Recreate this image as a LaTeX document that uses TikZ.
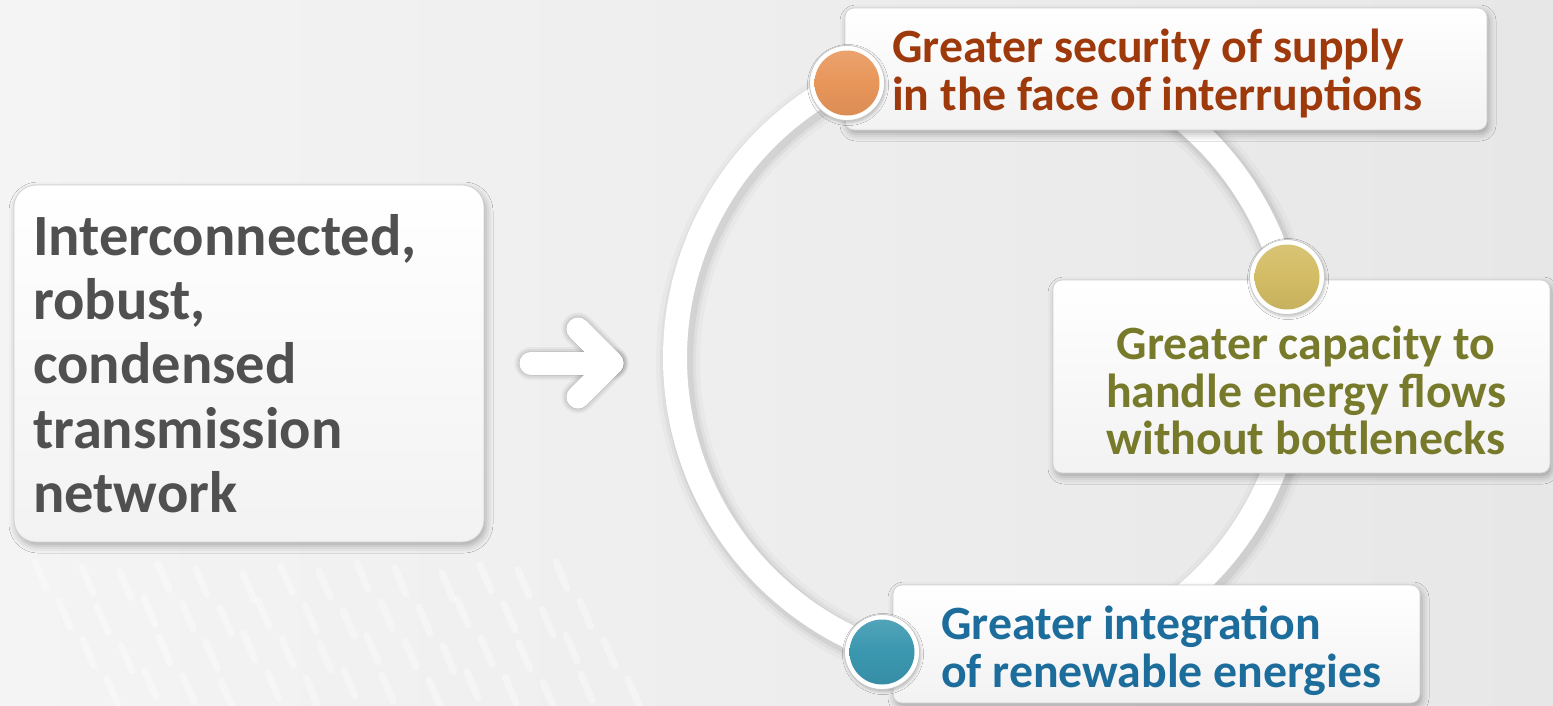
\documentclass[tikz,border=0pt]{standalone}
\usepackage{fontspec}
\setmainfont{Carlito}
\usetikzlibrary{shadows.blur}

\definecolor{bgleft}{HTML}{F4F4F4}
\definecolor{bgright}{HTML}{E7E7E7}
\definecolor{netgray}{HTML}{505050}
\definecolor{supplyred}{HTML}{9E390C}
\definecolor{flowolive}{HTML}{787A2B}
\definecolor{renewblue}{HTML}{1C6C9C}
\definecolor{dotorange}{HTML}{E8965A}
\definecolor{dotyellow}{HTML}{D3BC64}
\definecolor{dotblue}{HTML}{3A97AF}

\tikzset{
  panel/.style={rounded corners=9, draw=black!18, line width=0.8,
    top color=white, bottom color=black!5,
    blur shadow={shadow xshift=2pt, shadow yshift=-4pt,
      shadow blur radius=7pt, shadow opacity=30},
    inner sep=0, outer sep=0},
  bigtext/.style={font=\bfseries\fontsize{58.5}{64.3}\selectfont, text=netgray,
    align=left, inner sep=0},
  benefit/.style={font=\bfseries\fontsize{47.8}{47.5}\selectfont, inner sep=0},
  rim/.style={circle, minimum size=75, fill=white, draw=black!22,
    line width=0.8, inner sep=0,
    blur shadow={shadow xshift=1pt, shadow yshift=-2pt,
      shadow blur radius=3pt, shadow opacity=25}},
  bead/.style={circle, minimum size=65, inner sep=0,
    top color=#1!88!white, bottom color=#1!94!black, middle color=#1},
  ringline/.style={draw=white, line width=24},
  arrowline/.style={line width=23, line cap=round, line join=round}
}

\begin{document}
\begin{tikzpicture}[x=1pt, y=-1pt]
\useasboundingbox (0,0) rectangle (1553,705);

% backdrop
\shade[left color=bgleft, right color=bgright] (0,0) rectangle (1553,705);
\foreach \c in {0,...,13}{
  \foreach \r in {0,...,3}{
    \pgfmathsetmacro{\sx}{35+40*\c+22*\r+mod(7*\c+11*\r,9)}
    \pgfmathsetmacro{\sy}{562+36*\r+mod(5*\c+3*\r,13)}
    \draw[white, opacity=0.35, line width=7, line cap=round]
      (\sx,\sy) -- ++(11,26);
  }
}

% ring joining the three benefits
\coordinate (hub) at (985,358);
\foreach \w/\o in {44/0.025, 36/0.035, 30/0.05}
  \draw[black, opacity=\o, line width=\w] ([shift={(3,4)}]hub) circle[radius=310];
\draw[ringline] (hub) circle[radius=310];

% left statement
\node[panel, rounded corners=22, minimum width=470, minimum height=357]
  (netbox) at (249,363.5) {};
\node[bigtext, anchor=north west] (nettext) at (33,214)
  {Interconnected,\\robust,\\condensed\\transmission\\network};

% arrow towards the ring
\coordinate (shaftL) at (531,363);
\coordinate (tip) at (612,363);
\coordinate (armT) at (578,329);
\coordinate (armB) at (578,397);
\begin{scope}[shift={(4,5)}]
  \foreach \w/\o in {33/0.04, 29/0.06, 25/0.08}{
    \draw[black, opacity=\o, line width=\w, line cap=round] (shaftL) -- (tip);
    \draw[black, opacity=\o, line width=\w, line cap=round, line join=round]
      (armT) -- (tip) -- (armB);
  }
\end{scope}
\draw[white, arrowline] (shaftL) -- (tip);
\draw[white, arrowline] (armT) -- (tip) -- (armB);

% benefit panels
\node[panel, minimum width=642, minimum height=122] (supplybox) at (1166,69) {};
\node[panel, minimum width=497, minimum height=193] (flowbox) at (1301.5,376.5) {};
\node[panel, minimum width=527, minimum height=118] (renewbox) at (1156.5,644) {};

\node[benefit, text=supplyred, align=left, anchor=north west] (supplytext)
  at (892,29) {Greater security of supply\\in the face of interruptions};
\node[benefit, text=flowolive, align=center, anchor=north] (flowtext)
  at (1306,326) {Greater capacity to\\handle energy flows\\without bottlenecks};
\node[benefit, text=renewblue, align=left, anchor=north west] (renewtext)
  at (941,606) {Greater integration\\of renewable energies};

% beads on the ring
\node[rim] (rimA) at (847,83) {};
\node[bead=dotorange] (beadA) at (rimA) {};
\node[rim] (rimB) at (1287,277) {};
\node[bead=dotyellow] (beadB) at (rimB) {};
\node[rim] (rimC) at (882,652) {};
\node[bead=dotblue] (beadC) at (rimC) {};

\end{tikzpicture}
\end{document}
